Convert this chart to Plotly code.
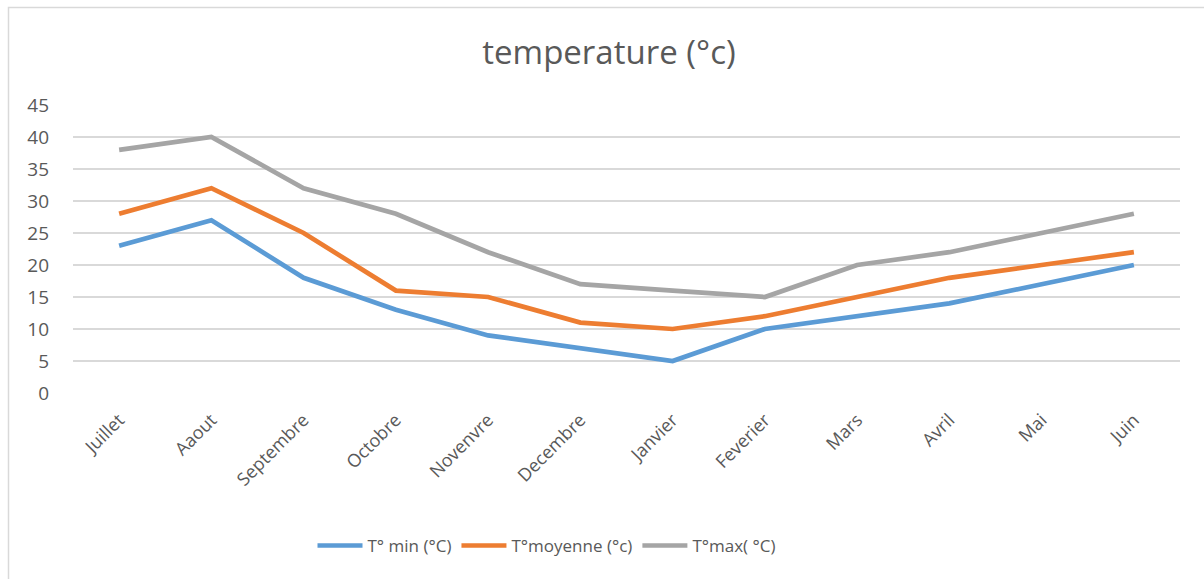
import plotly.graph_objects as go

months = ["Juillet", "Aaout", "Septembre", "Octobre", "Novenvre", "Decembre",
          "Janvier", "Feverier", "Mars", "Avril", "Mai", "Juin"]
t_min = [23, 27, 18, 13, 9, 7, 5, 10, 12, 14, 17, 20]
t_moy = [28, 32, 25, 16, 15, 11, 10, 12, 15, 18, 20, 22]
t_max = [38, 40, 32, 28, 22, 17, 16, 15, 20, 22, 25, 28]

series = [
    ("T° min (°C)", t_min, "#5B9BD5"),
    ("T°moyenne (°c)", t_moy, "#ED7D31"),
    ("T°max( °C)", t_max, "#A5A5A5"),
]

FONT = "Open Sans, Segoe UI, sans-serif"
TEXT = "#595959"

fig = go.Figure()
for name, vals, color in series:
    fig.add_trace(go.Scatter(
        x=months, y=vals, name=name, mode="lines",
        line=dict(color=color, width=4.7),
    ))

fig.update_layout(
    width=1204, height=579,
    margin=dict(l=73, r=24, t=105, b=186),
    paper_bgcolor="white", plot_bgcolor="white",
    font=dict(family=FONT, color=TEXT, size=18),
    title=dict(text="temperature (°c)", x=609 / 1204, xanchor="center",
               y=1 - 52 / 579, yanchor="middle",
               font=dict(size=33, color=TEXT, family=FONT)),
    showlegend=True,
    legend=dict(orientation="h", x=(547 - 73) / 1107, xanchor="center",
                y=-0.531, yanchor="middle",
                font=dict(size=17, color=TEXT, family=FONT),
                itemwidth=45, tracegroupgap=0),
    xaxis=dict(type="category", range=[-0.5, 11.5], showgrid=False,
               showline=False, zeroline=False, ticks="",
               tickangle=-45, ticklabelstandoff=12,
               tickfont=dict(size=18, color=TEXT)),
    yaxis=dict(range=[0, 45], dtick=5, tick0=0, showgrid=True,
               gridcolor="#D9D9D9", gridwidth=1.5, zeroline=False,
               showline=False, ticks="", ticklabelstandoff=23,
               tickfont=dict(size=19, color=TEXT)),
    shapes=[dict(type="rect", xref="paper", yref="paper",
                 x0=(8.5 - 73) / 1107, x1=1.5,
                 y0=-1.5, y1=1 + (105 - 7.5) / 288,
                 line=dict(color="#D9D9D9", width=1.5),
                 fillcolor="rgba(0,0,0,0)", layer="below")],
)

fig.write_html("out.html")
